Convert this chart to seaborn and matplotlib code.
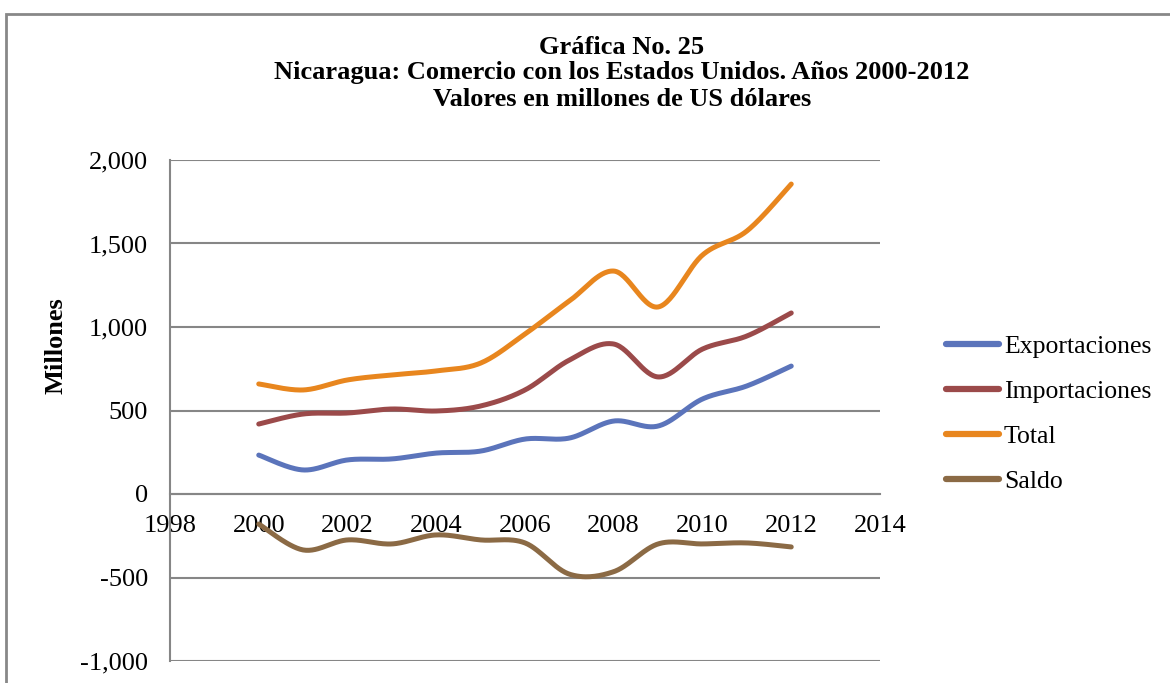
import numpy as np
import pandas as pd
import matplotlib
matplotlib.use("Agg")
import matplotlib.pyplot as plt
import seaborn as sns
from matplotlib.patches import Rectangle
from matplotlib.ticker import FuncFormatter

years = list(range(2000, 2013))
exportaciones = [233, 144, 204, 210, 245, 257, 329, 335, 437, 407, 569, 647, 766]
importaciones = [419, 479, 485, 509, 497, 527, 623, 802, 898, 701, 868, 946, 1084]
total = [659, 623, 683, 713, 737, 784, 958, 1156, 1335, 1120, 1431, 1575, 1856]
saldo = [-180, -335, -275, -299, -245, -275, -293, -480, -465, -299, -299, -293, -317]

series_names = ["Exportaciones", "Importaciones", "Total", "Saldo"]
colors = ["#5B74BB", "#9B4A4A", "#E8861E", "#8B6A45"]


def smooth(x, y, n=30):
    # Excel-style smoothed line (uniform Catmull-Rom through the points)
    x = np.asarray(x, float)
    y = np.asarray(y, float)
    px = np.r_[x[0], x, x[-1]]
    py = np.r_[y[0], y, y[-1]]
    xs, ys = [], []
    t = np.linspace(0, 1, n, endpoint=False)
    for i in range(1, len(px) - 2):
        for p, out in ((px, xs), (py, ys)):
            p0, p1, p2, p3 = p[i - 1], p[i], p[i + 1], p[i + 2]
            m1 = (p2 - p0) / 2
            m2 = (p3 - p1) / 2
            h = (2 * t**3 - 3 * t**2 + 1) * p1 + (t**3 - 2 * t**2 + t) * m1 \
                + (-2 * t**3 + 3 * t**2) * p2 + (t**3 - t**2) * m2
            out.extend(h)
    xs.append(x[-1])
    ys.append(y[-1])
    return np.array(xs), np.array(ys)


frames = []
for name, vals in zip(series_names, [exportaciones, importaciones, total, saldo]):
    sx, sy = smooth(years, vals)
    frames.append(pd.DataFrame({"year": sx, "value": sy, "serie": name}))
df = pd.concat(frames, ignore_index=True)

sns.set_style("white")
plt.rcParams["font.family"] = ["Liberation Serif", "DejaVu Serif"]
plt.rcParams["text.color"] = "black"

fig = plt.figure(figsize=(11.7, 6.83), dpi=100)
ax = fig.add_axes([170 / 1170, 1 - 661 / 683, 710 / 1170, 501 / 683])

sns.lineplot(data=df, x="year", y="value", hue="serie", hue_order=series_names,
             palette=colors, sort=False, estimator=None, units="serie",
             linewidth=3.6, ax=ax, legend=True)
for line in ax.lines:
    line.set_solid_capstyle("round")

ax.set_xlim(1998, 2014)
ax.set_ylim(-1000, 2000)
ax.set_xticks(range(1998, 2015, 2))
ax.set_yticks(range(-1000, 2001, 500))
ax.yaxis.set_major_formatter(FuncFormatter(lambda v, p: f"{int(v):,}"))

grid_c = "#868686"
ax.yaxis.grid(True, color=grid_c, linewidth=1.5)
ax.set_axisbelow(True)
ax.spines["bottom"].set_position(("data", 0))
for s in ["top", "right"]:
    ax.spines[s].set_visible(False)
for s in ["left", "bottom"]:
    ax.spines[s].set_color(grid_c)
    ax.spines[s].set_linewidth(1.5)
ax.tick_params(axis="both", direction="out", length=6, width=1.5, color=grid_c,
               labelsize=19, labelcolor="black")
ax.tick_params(axis="x", pad=9)
ax.tick_params(axis="y", pad=10)
ax.set_xlabel("")
ax.set_ylabel("Millones", fontsize=19, fontweight="bold", color="black")
ax.yaxis.set_label_coords(-0.145, 0.629)

handles, labels = ax.get_legend_handles_labels()
leg = ax.legend(handles, labels, loc="center left", bbox_to_anchor=(1.093, 0.493),
                frameon=False, fontsize=18.5, handlelength=2.05, handletextpad=0.2,
                labelspacing=0.86, borderaxespad=0, borderpad=0)
for lh in leg.get_lines():
    lh.set_linewidth(4.5)
    lh.set_solid_capstyle("round")
for t in leg.get_texts():
    t.set_color("black")

title_lines = ["Gráfica No. 25",
               "Nicaragua: Comercio con los Estados Unidos. Años 2000-2012",
               "Valores en millones de US dólares"]
for i, txt in enumerate(title_lines):
    fig.text(622 / 1170, 1 - (47 + 26 * i) / 683, txt, ha="center", va="center",
             fontsize=19, fontweight="bold", color="black")

fig.patches.append(Rectangle((6 / 1170, -0.2), 2, 1 - 14 / 683 + 0.2,
                             transform=fig.transFigure, fill=False,
                             edgecolor="#888888", linewidth=2))

fig.savefig("out.png", dpi=100)
